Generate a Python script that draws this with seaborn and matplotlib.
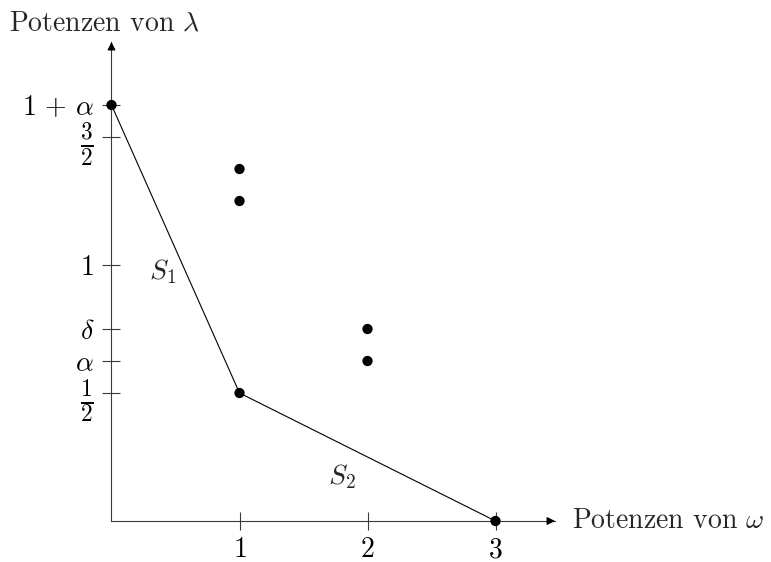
import matplotlib
matplotlib.use("Agg")
import matplotlib.pyplot as plt
import seaborn as sns
import pandas as pd

sns.set_theme(style="white")
plt.rcParams["font.family"] = "serif"
plt.rcParams["font.serif"] = ["cmr10", "DejaVu Serif"]
plt.rcParams["mathtext.fontset"] = "cm"
plt.rcParams["axes.unicode_minus"] = False

# exponents
ALPHA = 0.625
DELTA = 0.75

# Newton polygon vertices
poly_x = [0, 1, 3]
poly_y = [1 + ALPHA, 0.5, 0]

# all monomial exponents (omega power, lambda power)
pts_x = [0, 1, 3, 1, 1, 2, 2]
pts_y = [1 + ALPHA, 0.5, 0, ALPHA + DELTA, 0.5 + DELTA, DELTA, ALPHA]

# ticks
xticks = [1, 2, 3]
xticklabels = ["$1$", "$2$", "$3$"]
yticks = [1 + ALPHA, 1.5, 1, DELTA, ALPHA, 0.5]
yticklabels = [r"$1\,+\,\alpha$", r"$\frac{3}{2}$", "$1$", r"$\delta$", r"$\alpha$", r"$\frac{1}{2}$"]

W, H = 771, 562
FS = 20
fig = plt.figure(figsize=(W / 100, H / 100), dpi=100)
ax = fig.add_axes([0, 0, 1, 1])
ox, oy, sx, sy = 111.5, 521, 128, 256
ax.set_xlim(-ox / sx, (W - ox) / sx)
ax.set_ylim(-(H - oy) / sy, oy / sy)
ax.patch.set_alpha(0)

x_end = (555 - ox) / sx
y_end = (oy - 42) / sy

axis_color = "#3a3a3a"
for side in ["top", "right"]:
    ax.spines[side].set_visible(False)
ax.spines["left"].set_position(("data", 0))
ax.spines["bottom"].set_position(("data", 0))
ax.spines["left"].set_bounds(0, y_end)
ax.spines["bottom"].set_bounds(0, x_end)
for side in ["left", "bottom"]:
    ax.spines[side].set_color(axis_color)
    ax.spines[side].set_linewidth(0.8)

# arrow heads
ax.annotate("", xy=(x_end, 0), xytext=(x_end - 0.05, 0),
            arrowprops=dict(arrowstyle="-|>", color="black", lw=0.8,
                            mutation_scale=12, shrinkA=0, shrinkB=0))
ax.annotate("", xy=(0, y_end), xytext=(0, y_end - 0.03),
            arrowprops=dict(arrowstyle="-|>", color="black", lw=0.8,
                            mutation_scale=12, shrinkA=0, shrinkB=0))

ax.set_xticks(xticks)
ax.set_xticklabels(xticklabels)
ax.set_yticks(yticks)
ax.set_yticklabels(yticklabels)
ax.tick_params(axis="both", direction="inout", length=13, width=0.8,
               color=axis_color, labelsize=FS, labelcolor="black",
               bottom=True, left=True)
ax.tick_params(axis="x", pad=5)
ax.tick_params(axis="y", pad=6)
# fractions read larger in the tick column
for lbl in ax.get_yticklabels():
    if r"\frac" in lbl.get_text():
        lbl.set_fontsize(24)

poly = pd.DataFrame({"w": poly_x, "l": poly_y})
pts = pd.DataFrame({"w": pts_x, "l": pts_y})
sns.lineplot(data=poly, x="w", y="l", ax=ax, color="black", linewidth=0.8,
             sort=False, estimator=None)
sns.scatterplot(data=pts, x="w", y="l", ax=ax, color="black", s=55,
                edgecolor="none", zorder=5)
ax.set_xlabel("")
ax.set_ylabel("")

ax.text(0.40, 0.973, "$S_1$", fontsize=FS, ha="center", va="center")
ax.text(1.80, 0.172, "$S_2$", fontsize=FS, ha="center", va="center")
ax.text(-102 / sx, (oy - 23) / sy, r"Potenzen von $\lambda$", fontsize=FS,
        ha="left", va="center")
ax.text((572 - ox) / sx, 0, r"Potenzen von $\omega$", fontsize=FS,
        ha="left", va="center")

fig.savefig("out.png", dpi=100)
